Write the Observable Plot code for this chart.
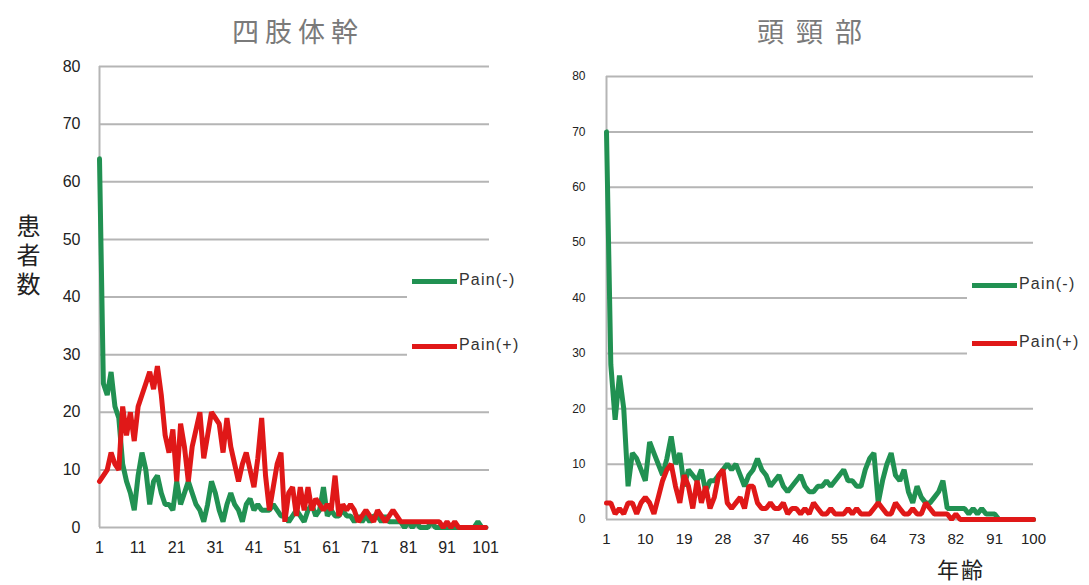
<!DOCTYPE html>
<html><head><meta charset="utf-8">
<script src="https://cdn.jsdelivr.net/npm/d3@7"></script>
<script src="https://cdn.jsdelivr.net/npm/@observablehq/plot@0.6"></script>
<style>
body{margin:0;background:#fff;}
#wrap{position:relative;width:1089px;height:585px;overflow:hidden;font-family:"Liberation Sans",Arial,sans-serif;background:#fff;}
.panel{position:absolute;top:0;}
.title{position:absolute;font-family:"Noto Sans CJK JP";font-size:27px;color:#7a7a7a;white-space:nowrap;line-height:1;}
.legend{position:absolute;background:#fff;}
.lg-line{position:absolute;height:5px;}
.lg-text{position:absolute;font-size:16px;color:#333;letter-spacing:1.2px;line-height:1;white-space:nowrap;}
.ylabel{position:absolute;font-family:"Noto Sans CJK JP";font-size:24px;color:#222;writing-mode:vertical-rl;text-orientation:upright;letter-spacing:5px;line-height:1;white-space:nowrap;}
.xlabel{position:absolute;font-family:"Noto Sans CJK JP";font-size:22px;color:#222;line-height:22px;white-space:nowrap;letter-spacing:2px;}
</style></head>
<body>
<div id="wrap"></div>
<script>
// ---- data ----
const leftAges = d3.range(1, 102);   // 1..101
const leftPainNeg = [
  64,25,23,27,21,19,11,8,6,3,
  9,13,10,4,8,9,6,4,4,3,
  8,4,6,8,6,4,3,1,4,8,
  6,3,1,4,6,4,3,1,4,5,
  3,4,3,3,3,4,3,2,2,1,
  2,3,2,1,3,4,2,3,7,2,
  3,2,2,3,2,2,1,2,1,2,
  1,2,2,1,2,1,1,1,1,0,
  1,0,1,0,0,0,1,0,0,0,
  0,0,0,0,0,0,0,0,1,0,0];
const leftPainPos = [
  8,9,10,13,11,10,21,16,20,15,
  21,23,25,27,24,28,23,16,13,17,
  8,18,14,8,14,17,20,12,16,20,
  19,18,13,19,14,11,8,11,13,10,
  7,12,19,9,3,7,11,13,1,6,
  7,2,7,3,7,3,5,4,3,4,
  3,9,2,4,3,4,3,1,2,3,
  2,1,3,2,1,2,3,2,1,1,
  1,1,1,1,1,1,1,1,1,0,
  1,0,1,0,0,0,0,0,0,0,0];
const rightAges = d3.range(1, 101);  // 1..100
const rightPainNeg = [
  70,28,18,26,20,6,12,11,9,7,
  14,12,10,8,11,15,10,12,6,9,
  8,7,9,5,7,7,8,9,10,9,
  10,8,6,8,9,11,9,8,6,7,
  8,6,5,6,7,8,6,5,5,6,
  6,7,6,7,8,9,7,7,6,6,
  9,11,12,3,7,10,12,8,7,9,
  5,3,6,4,3,3,4,5,7,2,
  2,2,2,2,1,2,1,2,1,1,
  1,0,0,0,0,0,0,0,0,0];
const rightPainPos = [
  3,3,1,2,1,3,3,1,3,4,
  3,1,4,7,9,10,6,3,8,6,
  2,7,3,6,2,4,8,9,3,2,
  3,4,2,6,6,3,2,2,3,2,
  2,3,1,2,2,1,2,1,3,2,
  1,1,2,1,1,1,2,1,2,1,
  1,1,2,3,2,1,1,3,2,1,
  1,2,1,1,3,2,1,1,1,1,
  0,1,0,0,0,0,0,0,0,0,
  0,0,0,0,0,0,0,0,0,0];
const yTicks = [0,10,20,30,40,50,60,70,80];
const leftXTicks = [1,11,21,31,41,51,61,71,81,91,101];
const rightXTicks = [1,10,19,28,37,46,55,64,73,82,91,100];
const titles = ["四肢体幹", "頭頸部"];
const seriesNames = ["Pain(-)", "Pain(+)"];
const colors = ["#219152", "#e01818"];
const yLabel = "患者数";
const xLabel = "年齢";

const leftData = leftAges.map((age, i) => ({age, neg: leftPainNeg[i], pos: leftPainPos[i]}));
const rightData = rightAges.map((age, i) => ({age, neg: rightPainNeg[i], pos: rightPainPos[i]}));

const wrap = document.getElementById("wrap");

function panel(data, opts) {
  const p = Plot.plot({
    width: opts.width, height: 585,
    marginLeft: opts.ml, marginRight: opts.mr, marginTop: opts.mt, marginBottom: opts.mb,
    x: {type: "linear", domain: opts.xdomain, label: null},
    y: {domain: [0, 80], label: null},
    style: {fontFamily: "'Liberation Sans', Arial, sans-serif", color: "#222", background: "transparent", overflow: "visible"},
    marks: [
      Plot.ruleY(yTicks, {stroke: "#b5b5b5", strokeWidth: 2}),
      Plot.ruleX([1], {stroke: "#b5b5b5", strokeWidth: 2}),
      Plot.axisY({ticks: yTicks, tickSize: 0, tickPadding: opts.ypad, fontSize: opts.yfs, label: null}),
      Plot.axisX({ticks: opts.xticks, tickSize: 0, tickPadding: opts.xpad, fontSize: opts.xfs, label: null, tickFormat: d => String(d)}),
      Plot.line(data, {x: "age", y: "neg", stroke: colors[0], strokeWidth: 5, strokeLinejoin: "miter"}),
      Plot.line(data, {x: "age", y: "pos", stroke: colors[1], strokeWidth: 5, strokeLinejoin: "miter"})
    ]
  });
  p.classList.add("panel");
  p.style.left = opts.left + "px";
  wrap.appendChild(p);
}

panel(leftData, {left: 0, width: 545, ml: 99, mr: 56, mt: 66, mb: 58, xdomain: [1, 102],
  xticks: leftXTicks, ypad: 19, yfs: 16, xpad: 14, xfs: 16});
panel(rightData, {left: 545, width: 544, ml: 61, mr: 56, mt: 76, mb: 66, xdomain: [1, 100],
  xticks: rightXTicks, ypad: 21, yfs: 12, xpad: 14, xfs: 15});

function addDiv(cls, text, style) {
  const d = document.createElement("div");
  d.className = cls;
  if (text != null) d.textContent = text;
  Object.assign(d.style, style);
  wrap.appendChild(d);
  return d;
}

// titles
addDiv("title", titles[0], {left: "232px", top: "17px", letterSpacing: "6px"});
addDiv("title", titles[1], {left: "757px", top: "17px", letterSpacing: "12px"});

// legends
function legend(x0, yTop, yNeg, yPos) {
  addDiv("legend", null, {left: (x0 - 5) + "px", top: yTop + "px", width: "135px", height: "110px"});
  [yNeg, yPos].forEach((y, i) => {
    addDiv("lg-line", null, {left: x0 + "px", top: (y - 2) + "px", width: "45px", background: colors[i]});
    addDiv("lg-text", seriesNames[i], {left: (x0 + 47) + "px", top: (y - 9) + "px"});
  });
}
legend(412, 262, 281, 346);
legend(972, 266, 285, 343);

// axis labels
addDiv("ylabel", yLabel, {left: "16px", top: "214px"});
addDiv("xlabel", xLabel, {left: "937px", top: "557px"});
</script>
</body></html>
